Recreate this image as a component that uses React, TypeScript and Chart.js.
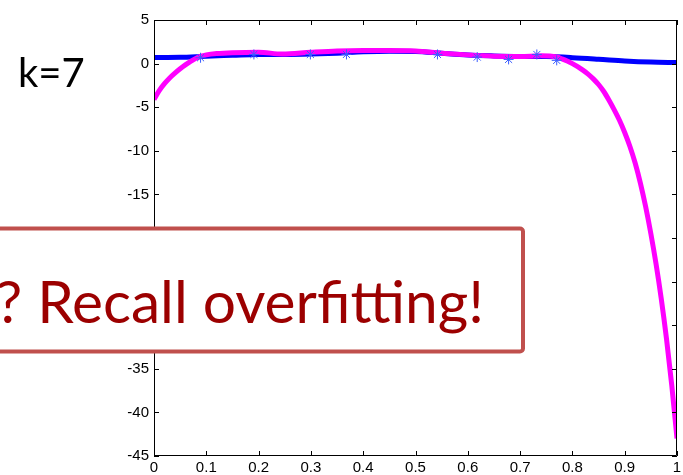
import React, { useEffect, useRef } from "react";
import { Chart, registerables } from "chart.js";

Chart.register(...registerables);

// Degree-7 polynomial fit (magenta)
const fitX = [0, 0.01, 0.02, 0.03, 0.04, 0.05, 0.06, 0.07, 0.08, 0.09, 0.1, 0.12, 0.15, 0.2, 0.245, 0.3, 0.35, 0.4, 0.45, 0.5, 0.55, 0.6, 0.65, 0.7, 0.74, 0.77, 0.78, 0.79, 0.8, 0.81, 0.82, 0.83, 0.84, 0.85, 0.86, 0.87, 0.88, 0.89, 0.9, 0.91, 0.92, 0.93, 0.94, 0.95, 0.96, 0.97, 0.98, 0.99, 1.0];
const fitY = [-4.1, -3.1, -2.3, -1.65, -1.1, -0.6, -0.15, 0.25, 0.6, 0.85, 1.0, 1.15, 1.25, 1.3, 1.1, 1.3, 1.45, 1.5, 1.5, 1.45, 1.2, 1.0, 0.85, 0.8, 0.9, 0.75, 0.55, 0.3, 0.0, -0.35, -0.75, -1.2, -1.75, -2.4, -3.2, -4.2, -5.3, -6.5, -7.9, -9.5, -11.4, -13.7, -16.4, -19.5, -23.0, -27.0, -31.6, -36.9, -43.0];

// Underlying curve (blue)
const trueX = [0, 0.05, 0.1, 0.15, 0.2, 0.25, 0.3, 0.35, 0.4, 0.45, 0.5, 0.55, 0.6, 0.65, 0.7, 0.75, 0.8, 0.85, 0.9, 0.95, 1.0];
const trueY = [0.7, 0.72, 0.85, 0.95, 1.05, 1.05, 1.1, 1.2, 1.35, 1.42, 1.4, 1.18, 0.98, 0.88, 0.82, 0.8, 0.68, 0.5, 0.3, 0.17, 0.12];

// Training samples (asterisks)
const sampleX = [0.089, 0.191, 0.299, 0.368, 0.542, 0.618, 0.678, 0.732, 0.77];
const sampleY = [0.67, 1.05, 1.05, 1.05, 1.05, 0.75, 0.48, 1.05, 0.37];

const xTicks = [0, 0.1, 0.2, 0.3, 0.4, 0.5, 0.6, 0.7, 0.8, 0.9, 1];
const yTicks = [5, 0, -5, -10, -15, -20, -25, -30, -35, -40, -45];

const kLabel = "k=7";
const calloutText = "? Recall overfitting!";
const calloutFitPart = "Recall overfitting!";

const toPoints = (xs: number[], ys: number[]) => xs.map((x, i) => ({ x, y: ys[i] }));

const framePlugin = {
  id: "matlabFrame",
  afterDatasetsDraw(chart: any) {
    const { ctx, chartArea } = chart;
    const { left, right, top, bottom } = chartArea;
    const xs = chart.scales.x;
    const ys = chart.scales.y;
    const tl = 5;
    ctx.save();
    ctx.strokeStyle = "#000";
    ctx.lineWidth = 1;
    ctx.beginPath();
    ctx.rect(left + 0.5, top + 0.5, right - left - 1, bottom - top - 1);
    for (const v of xTicks) {
      const px = Math.round(xs.getPixelForValue(v)) + 0.5;
      ctx.moveTo(px, bottom);
      ctx.lineTo(px, bottom - tl);
      ctx.moveTo(px, top);
      ctx.lineTo(px, top + tl);
    }
    for (const v of yTicks) {
      const py = Math.round(ys.getPixelForValue(v)) + 0.5;
      ctx.moveTo(left, py);
      ctx.lineTo(left + tl, py);
      ctx.moveTo(right, py);
      ctx.lineTo(right - tl, py);
    }
    ctx.stroke();
    ctx.restore();
  },
};

const overlayPlugin = {
  id: "overlayText",
  afterDraw(chart: any) {
    const { ctx } = chart;
    ctx.save();

    // k label
    ctx.fillStyle = "#000";
    ctx.font = "40px Lato";
    ctx.textAlign = "left";
    ctx.textBaseline = "alphabetic";
    ctx.fillText(kLabel, 18, 87);

    // callout box
    const bx = -20, by = 228.5, bw = 543, bh = 123;
    ctx.beginPath();
    if (ctx.roundRect) ctx.roundRect(bx, by, bw, bh, 3);
    else ctx.rect(bx, by, bw, bh);
    ctx.fillStyle = "#fff";
    ctx.fill();
    ctx.lineWidth = 4;
    ctx.strokeStyle = "#C0504D";
    ctx.stroke();

    // callout text, sized to span the box interior
    ctx.font = "100px Lato";
    const w = ctx.measureText(calloutFitPart).width;
    const size = (100 * 447) / w;
    ctx.font = `${size}px Lato`;
    ctx.fillStyle = "#9C0000";
    ctx.textAlign = "right";
    ctx.fillText(calloutText, 484, 323);
    ctx.restore();
  },
};

export default function App() {
  const canvasRef = useRef<HTMLCanvasElement | null>(null);

  useEffect(() => {
    document.body.style.margin = "0";
    const canvas = canvasRef.current;
    if (!canvas) return;
    const tickFont = { family: "'Liberation Sans', Arial, sans-serif", size: 15 };
    const chart = new Chart(canvas, {
      type: "scatter",
      data: {
        datasets: [
          {
            label: "samples",
            data: toPoints(sampleX, sampleY),
            showLine: false,
            pointStyle: "star",
            pointRadius: 5,
            pointBorderWidth: 1,
            borderColor: "#3a5cff",
            backgroundColor: "#3a5cff",
            order: 0,
          },
          {
            label: "fit",
            data: toPoints(fitX, fitY),
            showLine: true,
            borderColor: "#FF00FF",
            borderWidth: 5,
            pointRadius: 0,
            cubicInterpolationMode: "monotone",
            order: 1,
          },
          {
            label: "true",
            data: toPoints(trueX, trueY),
            showLine: true,
            borderColor: "#0000FF",
            borderWidth: 5,
            pointRadius: 0,
            cubicInterpolationMode: "monotone",
            order: 2,
          },
        ],
      },
      options: {
        animation: false,
        responsive: false,
        devicePixelRatio: 1,
        layout: { padding: { left: 0, right: 2, top: 20, bottom: 0 } },
        plugins: { legend: { display: false }, tooltip: { enabled: false } },
        scales: {
          x: {
            type: "linear",
            min: 0,
            max: 1,
            grid: { display: false, drawTicks: false },
            border: { display: false },
            afterBuildTicks: (scale: any) => {
              scale.ticks = xTicks.map((v) => ({ value: v }));
            },
            afterFit: (scale: any) => {
              scale.height = 19;
              scale.paddingLeft = 0;
              scale.paddingRight = 0;
            },
            ticks: {
              color: "#000",
              font: tickFont,
              padding: 3,
              maxRotation: 0,
              autoSkip: false,
              callback: (v: any) => String(Math.round(Number(v) * 10) / 10),
            },
          },
          y: {
            type: "linear",
            min: -45,
            max: 5,
            grid: { display: false, drawTicks: false },
            border: { display: false },
            afterBuildTicks: (scale: any) => {
              scale.ticks = yTicks.map((v) => ({ value: v }));
            },
            afterFit: (scale: any) => {
              scale.width = 154;
              scale.paddingTop = 0;
              scale.paddingBottom = 0;
            },
            ticks: {
              color: "#000",
              font: tickFont,
              padding: 5,
              autoSkip: false,
              callback: (v: any) => String(v),
            },
          },
        },
      },
      plugins: [framePlugin, overlayPlugin],
    });
    return () => chart.destroy();
  }, []);

  return (
    <div style={{ position: "absolute", left: 0, top: 0, width: 683, height: 475 }}>
      <canvas ref={canvasRef} width={683} height={475} />
    </div>
  );
}
